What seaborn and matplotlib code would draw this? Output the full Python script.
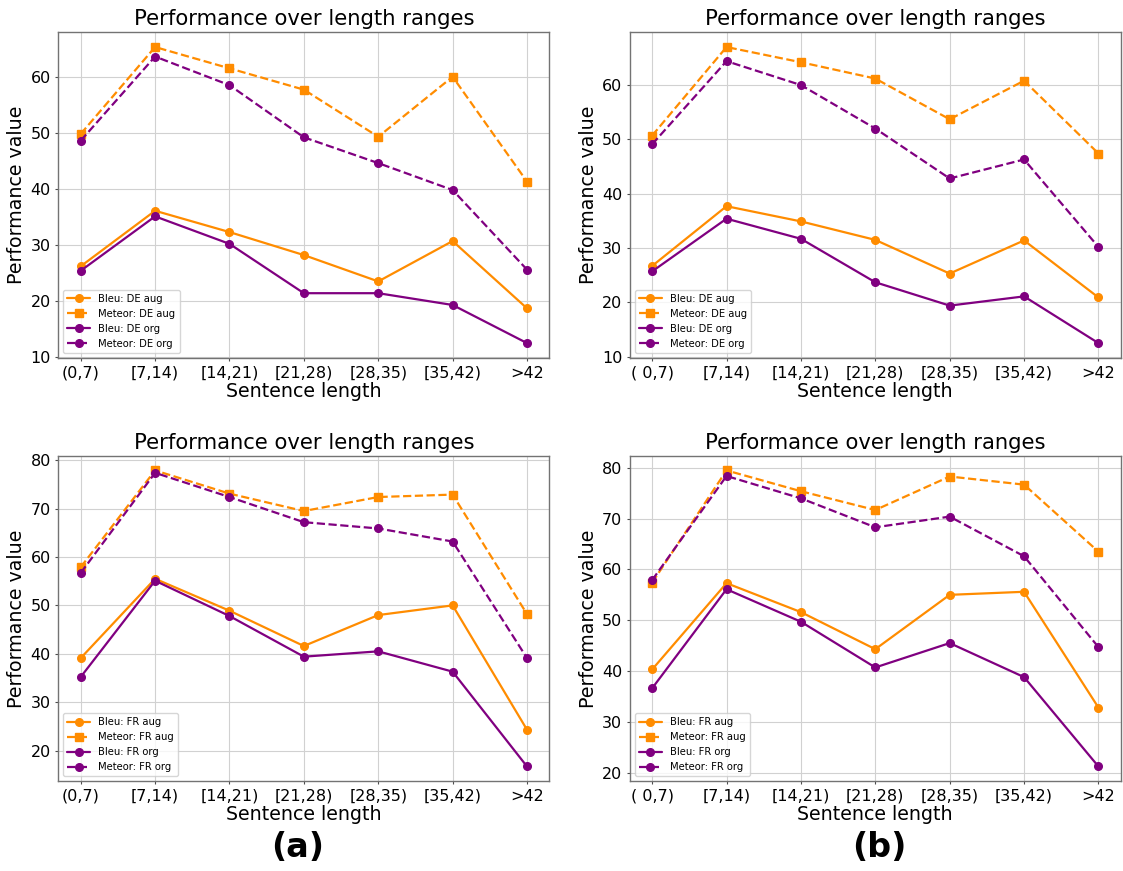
import matplotlib
matplotlib.use("Agg")
import matplotlib.pyplot as plt
import seaborn as sns
import pandas as pd

lengths_a = ["(0,7)", "[7,14)", "[14,21)", "[21,28)", "[28,35)", "[35,42)", ">42"]
lengths_b = ["( 0,7)", "[7,14)", "[14,21)", "[21,28)", "[28,35)", "[35,42)", ">42"]

de_a_bleu_aug = [26.2, 36.1, 32.3, 28.2, 23.5, 30.7, 18.7]
de_a_meteor_aug = [49.8, 65.3, 61.5, 57.7, 49.3, 60.0, 41.3]
de_a_bleu_org = [25.4, 35.1, 30.2, 21.4, 21.4, 19.3, 12.5]
de_a_meteor_org = [48.6, 63.6, 58.5, 49.2, 44.6, 39.8, 25.6]

de_b_bleu_aug = [26.7, 37.7, 34.9, 31.5, 25.3, 31.4, 20.9]
de_b_meteor_aug = [50.7, 67.0, 64.2, 61.2, 53.7, 60.8, 47.4]
de_b_bleu_org = [25.7, 35.4, 31.7, 23.7, 19.4, 21.1, 12.5]
de_b_meteor_org = [49.1, 64.4, 60.0, 52.0, 42.8, 46.3, 30.2]

fr_a_bleu_aug = [39.1, 55.5, 48.9, 41.6, 48.0, 50.0, 24.3]
fr_a_meteor_aug = [57.9, 77.9, 73.1, 69.5, 72.4, 72.9, 48.2]
fr_a_bleu_org = [35.2, 55.1, 47.8, 39.4, 40.5, 36.3, 16.7]
fr_a_meteor_org = [56.7, 77.4, 72.4, 67.2, 65.9, 63.2, 39.1]

fr_b_bleu_aug = [40.3, 57.3, 51.6, 44.3, 55.0, 55.6, 32.8]
fr_b_meteor_aug = [57.4, 79.5, 75.4, 71.7, 78.3, 76.7, 63.5]
fr_b_bleu_org = [36.6, 56.1, 49.7, 40.7, 45.5, 38.8, 21.2]
fr_b_meteor_org = [57.9, 78.4, 74.0, 68.3, 70.4, 62.6, 44.7]

sns.set_theme(style="whitegrid", rc={
    "axes.edgecolor": "0.45",
    "axes.linewidth": 1.0,
    "grid.color": "0.82",
    "grid.linewidth": 0.8,
    "xtick.bottom": True,
    "ytick.left": True,
    "xtick.major.size": 2.5,
    "ytick.major.size": 2.5,
    "xtick.major.width": 0.8,
    "ytick.major.width": 0.8,
    "xtick.major.pad": 3,
    "ytick.major.pad": 3,
    "xtick.color": "0.3",
    "ytick.color": "0.3",
    "xtick.labelcolor": "black",
    "ytick.labelcolor": "black",
    "text.color": "black",
    "axes.labelcolor": "black",
})
plt.rcParams["font.family"] = ["DejaVu Sans"]

orange = "darkorange"
purple = "purple"

fig, axes = plt.subplots(2, 2, figsize=(11.23, 8.71), dpi=100)
plt.subplots_adjust(left=0.052, right=0.998, top=0.963, bottom=0.103,
                    wspace=0.164, hspace=0.30)

panels = [
    (axes[0, 0], lengths_a, "DE", de_a_bleu_aug, de_a_meteor_aug, de_a_bleu_org, de_a_meteor_org),
    (axes[0, 1], lengths_b, "DE", de_b_bleu_aug, de_b_meteor_aug, de_b_bleu_org, de_b_meteor_org),
    (axes[1, 0], lengths_a, "FR", fr_a_bleu_aug, fr_a_meteor_aug, fr_a_bleu_org, fr_a_meteor_org),
    (axes[1, 1], lengths_b, "FR", fr_b_bleu_aug, fr_b_meteor_aug, fr_b_bleu_org, fr_b_meteor_org),
]

for ax, cats, lang, b_aug, m_aug, b_org, m_org in panels:
    series = [
        (b_aug, f"Bleu: {lang} aug", orange, "o", "-"),
        (m_aug, f"Meteor: {lang} aug", orange, "s", "--"),
        (b_org, f"Bleu: {lang} org", purple, "o", "-"),
        (m_org, f"Meteor: {lang} org", purple, "o", "--"),
    ]
    for vals, label, color, marker, ls in series:
        df = pd.DataFrame({"length": cats, "value": vals})
        sns.lineplot(data=df, x="length", y="value", ax=ax, sort=False,
                     color=color, marker=marker, linestyle=ls, linewidth=1.6,
                     markersize=5.5, markeredgecolor=color, markeredgewidth=1,
                     label=label)
    ax.set_title("Performance over length ranges", fontsize=15.2, pad=5)
    ax.set_xlabel("Sentence length", fontsize=13.7, labelpad=1)
    ax.set_ylabel("Performance value", fontsize=13.7, labelpad=3)
    ax.tick_params(labelsize=11.5)
    ax.legend(loc="lower left", fontsize=7.2, handlelength=2.3)

fig.text(0.265, 0.016, "(a)", fontsize=24, fontweight="bold", ha="center")
fig.text(0.783, 0.016, "(b)", fontsize=24, fontweight="bold", ha="center")

plt.savefig("out.png", dpi=100)
